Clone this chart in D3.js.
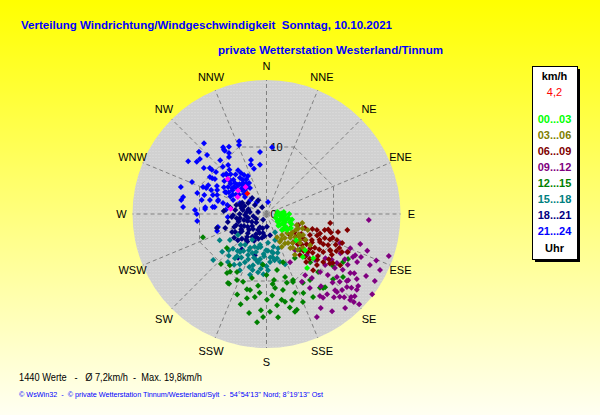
<!DOCTYPE html>
<html>
<head>
<meta charset="utf-8">
<script src="https://cdn.jsdelivr.net/npm/d3@7"></script>
<style>
  body { margin: 0; }
  svg { display: block; font-family: "Liberation Sans", Arial, sans-serif; }
</style>
</head>
<body>
<svg width="600" height="415"></svg>
<script>
(function (d3) {
  'use strict';

  // ---- data: [direction in degrees, speed in km/h] ----
  const directions = ['N', 'NNE', 'NE', 'ENE', 'E', 'ESE', 'SE', 'SSE',
    'S', 'SSW', 'SW', 'WSW', 'W', 'WNW', 'NW', 'NNW'];

  const bandLabels = ['00...03', '03...06', '06...09', '09...12',
    '12...15', '15...18', '18...21', '21...24'];
  const bandColors = ['#00ff00', '#808000', '#800000', '#800080',
    '#008000', '#008080', '#000080', '#0000ff'];

  const h00_03 = [[94, 2.0], [93, 2.8], [117.5, 1.9], [110, 2.6], [100.5, 3.3], [129.2, 2.6], [123, 3.3],
    [108.8, 3.7], [135.9, 3.3], [128, 3.9], [119.7, 4.2], [83.5, 2.6], [80, 1.7], [112.8, 1.5],
    [139.7, 8.4], [133.4, 9.6], [143.1, 10.1], [133.1, 7.9], [131.4, 5.9], [100, 2.2], [115, 3.0],
    [90, 3.4], [125, 2.0], [95, 1.5], [105, 2.4], [120, 2.8], [130, 3.4], [115, 2.2], [98, 2.6],
    [108, 3.0], [125, 3.8], [135, 2.5], [88, 2.2], [102, 3.9], [112, 4.0]];

  const h03_06 = [[154.8, 5.4], [104.2, 5.5], [111.1, 6.6], [142.4, 4.5], [120.8, 4.1], [128.9, 5.5],
    [130.9, 6.6], [132.8, 4.2], [134.1, 3.4], [109.8, 4.8], [119.9, 6.3], [142, 6.4], [154.3, 4.6],
    [143.6, 3.9], [155.5, 3.8], [125.2, 4.7], [123.4, 7.0], [138.8, 7.1], [143.4, 5.4], [125.5, 8.0],
    [145.2, 7.4], [115, 5.2], [135, 5.0], [125, 6.0], [118, 5.0], [122, 5.7], [130, 4.8], [138, 5.8],
    [148, 5.2], [128, 6.3], [112, 5.8], [145, 6.2], [150, 4.4], [133, 7.4]];

  const h06_09 = [[105.3, 9.0], [104.1, 11.0], [110.2, 11.2], [109.8, 10.5], [107.6, 7.9], [115.8, 7.2],
    [117.6, 9.0], [116.8, 10.3], [123.9, 10.2], [122, 11.5], [111, 12.1], [116.7, 12.6], [126.4, 12.3],
    [130.3, 11.1], [135.3, 10.7], [140.3, 10.9], [123.3, 6.5], [122.3, 5.0], [131.1, 7.0], [131.8, 4.7],
    [136.6, 5.8], [132.5, 8.4], [101.2, 12.3], [98.1, 9.6], [124.8, 13.4], [115.1, 12.0], [115, 13.4],
    [110, 6.1], [125, 8.8], [140.7, 7.9], [119.7, 7.8], [112.3, 9.4], [109.2, 5.0], [119.5, 10.9],
    [140.5, 9.3], [129.2, 9.9], [120, 6.0], [127, 7.5], [113, 8.2], [128, 5.5], [135, 7.8], [118, 11.8],
    [106, 10.0], [112, 10.2], [118, 9.6], [124, 9.5], [130, 9.0], [136, 9.3], [122, 8.0], [128, 8.3],
    [116, 8.8], [110, 8.5], [120, 11.0], [126, 11.5], [132, 10.2], [104, 9.5], [114, 11.3], [128, 12.0],
    [138, 8.6], [108, 7.2], [134, 6.5], [124, 7.0]];

  const h09_12 = [[93.4, 15.3], [107.8, 14.7], [108.9, 19.3], [116.3, 18.9], [121.9, 17.5], [121.7, 19.0],
    [127.2, 19.8], [134.2, 19.3], [135.8, 17.9], [140.1, 18.3], [153.9, 17.1], [138.5, 16.5], [138, 15.3],
    [146, 15.1], [130, 17.6], [129, 15.7], [125.2, 15.3], [117.9, 15.3], [116.4, 14.4], [115.3, 13.3],
    [116.2, 17.2], [135.2, 18.5], [134.5, 17.7], [125.7, 16.6], [129.8, 15.6], [128.2, 17.4], [132.2, 16.2],
    [135.2, 16.0], [114.5, 15.5], [114.9, 14.6], [112.2, 13.5], [111.5, 11.8], [122, 14.3], [126.2, 14.1],
    [124.8, 12.8], [128.3, 13.0], [125.1, 11.9], [131.8, 14.1], [135.4, 8.6], [133.5, 10.0], [131, 11.6],
    [137.3, 11.8], [134.8, 12.9], [132.8, 14.9], [146.9, 14.6], [142.9, 15.0], [144.6, 11.7], [137.9, 15.7],
    [130.9, 6.6], [141.6, 6.9], [153.9, 8.0], [147.7, 10.8], [152.4, 11.4], [149.6, 12.8], [120, 13.5],
    [124, 15.8], [131, 16.8], [137, 17.0], [141, 16.0], [143, 13.5], [127, 11.0], [136, 14.2], [118, 12.5],
    [110, 16.0], [113, 17.8], [133, 18.0], [146, 17.5], [150, 16.2]];

  const h12_15 = [[181.9, 15.4], [185, 16.2], [173.6, 15.5], [162.4, 15.0], [157.5, 14.2], [173.4, 13.7],
    [179.7, 12.8], [183.3, 14.4], [193.1, 12.9], [192.2, 11.6], [186.7, 10.8], [194.6, 11.6], [209.2, 11.8],
    [204.1, 10.8], [212.2, 10.2], [173.5, 9.9], [173.4, 11.1], [163.6, 9.8], [163.5, 10.7], [158.1, 10.6],
    [146.6, 11.8], [150.7, 14.2], [142.6, 13.9], [134.4, 13.9], [163.5, 13.4], [222.3, 10.1], [250, 10.1],
    [163.8, 15.2], [168.1, 13.4], [141.3, 14.0], [129.5, 14.8], [152.1, 11.6], [158.7, 10.9], [167.8, 11.6],
    [147.1, 7.8], [138.4, 11.6], [122.1, 13.5], [144.1, 13.6], [118.9, 13.9], [128, 12.6], [215.6, 9.4],
    [213.8, 10.6], [207, 9.7], [199.1, 10.7], [208.2, 11.8], [184, 7.6], [180, 9.1], [169.4, 8.5],
    [161, 7.6], [192.8, 9.8], [229.3, 7.8], [137, 7.3], [137.8, 9.7], [176, 12.2], [170, 13.0],
    [188, 12.5], [196, 14.0], [178, 14.6], [160, 12.5], [155, 13.0], [166, 14.4], [200, 12.8],
    [190, 15.0], [175, 10.5], [185, 11.8]];

  const h15_18 = [[240.8, 8.0], [229.3, 10.5], [226.2, 7.8], [234.5, 6.7], [233.6, 5.3], [214.7, 5.6],
    [209.1, 4.4], [191.8, 4.7], [177, 4.3], [161.9, 4.1], [214.9, 6.9], [204.3, 6.7], [195.4, 5.9],
    [183.4, 6.3], [171.8, 5.7], [161.3, 5.4], [204.1, 7.9], [194.8, 7.9], [185.1, 7.5], [175.8, 7.2],
    [166.6, 6.8], [188.3, 8.8], [178.5, 8.4], [215.6, 8.1], [218.7, 9.2], [195.1, 9.4], [205.3, 9.3],
    [154.7, 3.0], [194, 5.2], [180.8, 5.4], [205.9, 5.6], [164.3, 7.4], [159.7, 8.0], [170.5, 5.9],
    [229.5, 8.7], [212.5, 9.0], [192.9, 7.0], [200, 6.2], [188, 6.8], [210, 7.5], [198, 8.3],
    [183, 9.0], [172, 6.5], [220, 6.0], [190, 5.0], [200, 5.2], [206, 6.0], [212, 6.5], [218, 7.0],
    [224, 7.2], [196, 6.8], [190, 7.3], [184, 6.0], [178, 5.5], [175, 6.5], [170, 7.0], [168, 5.0],
    [186, 8.2], [194, 8.6], [202, 7.3], [208, 8.5], [215, 7.7], [180, 7.8], [164, 6.0], [222, 8.4]];

  const h18_21 = [[288.8, 4.2], [300.7, 3.2], [308, 2.2], [327.3, 1.2], [277.2, 4.7], [279.7, 3.6],
    [277, 2.5], [283.2, 1.3], [265, 5.2], [261.4, 4.0], [257.8, 2.8], [244.5, 1.7], [210, 1.0],
    [250.2, 4.8], [241.9, 3.8], [230.4, 2.8], [206.6, 2.2], [178, 1.9], [242.4, 5.8], [234.4, 4.9],
    [224.2, 4.0], [207.7, 3.4], [190.4, 2.9], [227.6, 5.8], [218.3, 4.9], [204.8, 4.4], [190.6, 3.6],
    [170.5, 3.2], [254.2, 7.7], [251.4, 6.5], [258.3, 5.9], [317.8, 3.2], [328.7, 2.4], [213, 7.8],
    [215, 6.4], [195.7, 6.4], [274, 6.4], [286.4, 4.7], [267, 3.2], [241, 2.5], [239, 4.4], [208, 2.7],
    [233.6, 6.0], [270, 4.0], [255, 3.5], [262, 4.5], [248, 5.2], [236, 3.4], [222, 3.0], [283, 3.8],
    [295, 4.0], [200, 3.0], [215, 5.0], [275, 3.0], [285, 2.8], [290, 3.5], [260, 2.0], [250, 3.0],
    [245, 4.2], [235, 4.5], [228, 3.5], [220, 4.5], [212, 4.0], [205, 3.8], [198, 3.9], [195, 2.2],
    [185, 3.3], [225, 5.2], [240, 5.4], [255, 4.3], [268, 5.0], [280, 5.5], [230, 2.0], [262, 3.0]];

  const h21_24 = [[318.6, 14.1], [312.6, 13.7], [314.8, 12.5], [304, 14.1], [306.8, 13.0], [309.6, 12.9],
    [306.3, 11.6], [309.1, 10.9], [309, 10.5], [304.2, 9.3], [303.2, 10.1], [299.5, 8.5], [293, 10.3],
    [296.3, 9.7], [286.8, 10.8], [287.5, 13.4], [293.2, 12.1], [286.9, 9.7], [293.3, 9.8], [289.6, 8.5],
    [277.7, 7.8], [286.1, 7.5], [282.2, 9.9], [274.6, 9.2], [281.5, 12.7], [279.3, 12.9], [273.2, 10.7],
    [270, 10.4], [264.2, 10.4], [255, 7.5], [251, 7.8], [327, 11.9], [326.4, 11.5], [317.2, 9.6],
    [314.6, 8.3], [298, 7.0], [284.2, 6.7], [330.8, 11.5], [339.4, 11.6], [338.3, 11.1], [326.6, 11.3],
    [328.4, 10.7], [326.7, 10.2], [354, 9.3], [344, 8.4], [342.4, 7.7], [352.4, 7.4], [344.5, 7.0],
    [4.7, 10.0], [311.9, 8.7], [303.4, 9.7], [293.4, 9.0], [291, 7.9], [284, 8.7], [285, 7.5],
    [274.8, 12.5], [276.3, 9.2], [277.5, 8.1], [283, 6.0], [265.5, 5.8], [310.3, 3.2], [321.6, 2.3],
    [7, 1.8], [327.6, 4.6], [330.6, 5.3], [314.5, 6.6], [323.6, 6.7], [314.4, 5.1], [302, 5.4],
    [308.3, 4.1], [307, 6.4], [327, 7.8], [330, 6.7], [313, 7.4], [292.5, 4.3], [292.7, 5.4],
    [326.5, 5.5], [276, 6.1], [315.5, 6.1], [322, 9.3], [319.3, 10.6], [309.7, 9.8], [318, 6.0],
    [311, 5.8], [320, 5.5], [305, 6.2], [316, 7.1], [300, 6.5], [325, 6.2], [310, 7.0], [296, 6.0],
    [318, 8.0], [305, 5.0], [312, 4.5], [318, 4.8], [325, 5.0], [330, 6.0], [322, 7.5], [315, 8.5],
    [308, 8.0], [302, 7.5], [298, 6.8], [310, 6.3], [317, 5.3], [323, 5.8], [312, 7.6], [305, 7.0],
    [300, 5.8], [328, 7.2], [334, 6.3], [320, 8.6], [296, 8.2]];

  const bands = [h00_03, h03_06, h06_09, h09_12, h12_15, h15_18, h18_21, h21_24];

  const lastMinutes = [[312, 7.8], [322.4, 5.1], [309.6, 5.5], [300.6, 5.0], [278.5, 5.4]];
  const currentValue = [[317, 4.2]];

  const ringLabels = [0, 10];
  const maxSpeed = 20;

  const titleText = 'Verteilung Windrichtung/Windgeschwindigkeit  Sonntag, 10.10.2021';
  const subtitleText = 'private Wetterstation Westerland/Tinnum';
  const statsText = '1440 Werte   -   \u00d8 7,2km/h  -  Max. 19,8km/h';
  const creditText = '\u00a9 WsWin32  -  \u00a9 private Wetterstation Tinnum/Westerland/Sylt  -  54\u00b054\'13\'\' Nord; 8\u00b019\'13\'\' Ost';

  // ---- canvas ----
  const svg = d3.select('svg');
  const defs = svg.append('defs');

  const bg = defs.append('linearGradient')
    .attr('id', 'bg').attr('x1', 0).attr('y1', 0).attr('x2', 0).attr('y2', 1);
  bg.append('stop').attr('offset', '0%').attr('stop-color', '#ffff00');
  bg.append('stop').attr('offset', '100%').attr('stop-color', '#fffff2');

  // fine dotted grey of the disc
  const dots = defs.append('pattern')
    .attr('id', 'dots').attr('width', 3).attr('height', 3)
    .attr('patternUnits', 'userSpaceOnUse');
  dots.append('rect').attr('width', 3).attr('height', 3).attr('fill', '#d1d1d1');
  dots.append('rect').attr('width', 1).attr('height', 1).attr('fill', '#dedede');

  svg.append('rect')
    .attr('width', 600).attr('height', 415)
    .attr('fill', 'url(#bg)');

  // titles
  svg.append('text')
    .attr('x', 21).attr('y', 28.5)
    .attr('textLength', 371).attr('lengthAdjust', 'spacingAndGlyphs')
    .style('white-space', 'pre')
    .attr('font-size', 11.5).attr('font-weight', 'bold').attr('fill', '#0000ff')
    .text(titleText);

  svg.append('text')
    .attr('x', 218).attr('y', 53.5)
    .attr('textLength', 225).attr('lengthAdjust', 'spacingAndGlyphs')
    .attr('font-size', 11.5).attr('font-weight', 'bold').attr('fill', '#0000ff')
    .text(subtitleText);

  // ---- polar plot ----
  const cx = 266.5, cy = 214, R = 134;
  const r = d3.scaleLinear().domain([0, maxSpeed]).range([0, R]);
  const angle = d3.scaleLinear().domain([0, 360]).range([0, 2 * Math.PI]);

  const toXY = ([deg, v]) => {
    const a = angle(deg);
    return [r(v) * Math.sin(a), -r(v) * Math.cos(a)];
  };

  const polarG = svg.append('g').attr('transform', `translate(${cx},${cy})`);

  polarG.append('circle')
    .attr('r', r(maxSpeed))
    .attr('fill', 'url(#dots)');

  // spokes every 22.5 degrees
  polarG.selectAll('.spoke').data(directions).enter()
    .append('line')
    .attr('class', 'spoke')
    .attr('x1', 0).attr('y1', 0)
    .attr('x2', (d, i) => toXY([i * 22.5, maxSpeed])[0])
    .attr('y2', (d, i) => toXY([i * 22.5, maxSpeed])[1])
    .attr('stroke', '#808080')
    .attr('stroke-dasharray', '4,3');

  // 10 km/h ring drawn as an octagon whose sides touch the 10 km/h circle
  const octagon = d3.range(8).map(k => {
    const deg = 22.5 + k * 45;
    return toXY([deg, 10 / Math.cos(Math.PI / 8)]);
  });
  polarG.append('path')
    .attr('d', d3.line().curve(d3.curveLinearClosed)(octagon))
    .attr('fill', 'none')
    .attr('stroke', '#808080')
    .attr('stroke-dasharray', '4,3');

  polarG.selectAll('.ringLabel').data(ringLabels).enter()
    .append('text')
    .attr('class', 'ringLabel')
    .attr('x', 4)
    .attr('y', d => -r(d))
    .attr('dy', '0.35em')
    .attr('font-size', 11)
    .attr('fill', '#000')
    .text(d => d);

  // compass labels
  polarG.selectAll('.compass').data(directions).enter()
    .append('text')
    .attr('class', 'compass')
    .attr('x', (d, i) => 145 * Math.sin(angle(i * 22.5)))
    .attr('y', (d, i) => -148 * Math.cos(angle(i * 22.5)))
    .attr('dy', '0.35em')
    .attr('text-anchor', 'middle')
    .attr('font-size', 11)
    .attr('fill', '#000')
    .text(d => d);

  // markers: later hours first so the early hours sit on top
  const diamond = d3.symbol().type(d3.symbolSquare).size(18);

  const drawPoints = (data, color) => {
    polarG.append('g')
      .selectAll('path').data(data).enter()
      .append('path')
      .attr('d', diamond)
      .attr('transform', d => {
        const [x, y] = toXY(d);
        return `translate(${x},${y}) rotate(45)`;
      })
      .attr('fill', color);
  };

  for (let i = bands.length - 1; i >= 0; i--) {
    drawPoints(bands[i], bandColors[i]);
  }
  drawPoints(lastMinutes, '#ff00ff');
  drawPoints(currentValue, '#ff0000');

  // ---- legend ----
  const legendG = svg.append('g').attr('transform', 'translate(532,66)');
  legendG.append('rect')
    .attr('x', 3).attr('y', 3).attr('width', 45).attr('height', 193)
    .attr('fill', '#000');
  legendG.append('rect')
    .attr('x', 0.5).attr('y', 0.5).attr('width', 45).attr('height', 193)
    .attr('fill', '#fff').attr('stroke', '#000');

  const lx = 22.5;
  legendG.append('text')
    .attr('x', lx).attr('y', 14)
    .attr('text-anchor', 'middle')
    .attr('font-size', 11).attr('font-weight', 'bold').attr('fill', '#000')
    .text('km/h');
  legendG.append('text')
    .attr('x', lx).attr('y', 30)
    .attr('text-anchor', 'middle')
    .attr('font-size', 11).attr('fill', '#ff0000')
    .text(d3.format('.1f')(currentValue[0][1]).replace('.', ','));

  legendG.selectAll('.band').data(bandLabels).enter()
    .append('text')
    .attr('class', 'band')
    .attr('x', lx)
    .attr('y', (d, i) => 57.3 + i * 15.96)
    .attr('text-anchor', 'middle')
    .attr('font-size', 11).attr('font-weight', 'bold')
    .attr('fill', (d, i) => bandColors[i])
    .text(d => d);

  legendG.append('text')
    .attr('x', lx).attr('y', 185.5)
    .attr('text-anchor', 'middle')
    .attr('font-size', 11).attr('font-weight', 'bold').attr('fill', '#000')
    .text('Uhr');

  // ---- footer ----
  svg.append('text')
    .attr('x', 19).attr('y', 381)
    .style('white-space', 'pre')
    .attr('textLength', 183).attr('lengthAdjust', 'spacingAndGlyphs')
    .attr('font-size', 10.5).attr('fill', '#000')
    .text(statsText);

  svg.append('text')
    .attr('x', 19).attr('y', 397)
    .style('white-space', 'pre')
    .attr('textLength', 304).attr('lengthAdjust', 'spacingAndGlyphs')
    .attr('font-size', 7.5).attr('fill', '#0000ff')
    .text(creditText);

}(d3));
</script>
</body>
</html>
